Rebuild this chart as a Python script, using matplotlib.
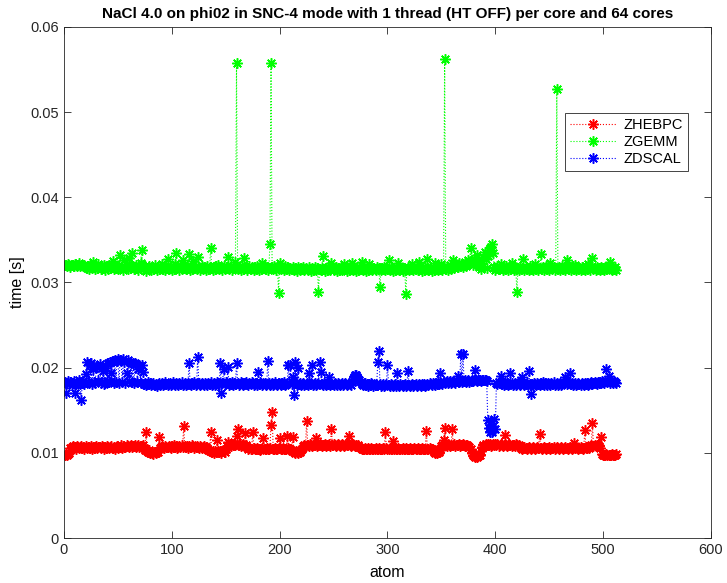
import numpy as np
import matplotlib
matplotlib.use("Agg")
import matplotlib.pyplot as plt

# times per atom, in ms
zhebpc_ms = [
    9.8, 9.9, 9.8, 9.9, 10.0, 10.6, 10.7, 10.8, 10.6, 10.7, 10.5, 10.8, 10.7, 10.6, 10.7, 10.8,
    10.6, 10.7, 10.5, 10.8, 10.6, 10.7, 10.7, 10.6, 10.8, 10.5, 10.7, 10.6, 10.7, 10.8, 10.6, 10.7,
    10.7, 10.6, 10.8, 10.7, 10.5, 10.7, 10.6, 10.8, 10.7, 10.6, 10.7, 10.8, 10.6, 10.7, 10.5, 10.7,
    10.8, 10.6, 10.7, 10.7, 10.9, 10.6, 10.8, 10.7, 10.7, 10.9, 10.8, 10.7, 10.8, 10.9, 10.7, 10.8,
    10.8, 10.9, 10.7, 10.8, 10.9, 10.7, 10.8, 10.8, 10.9, 10.6, 10.3, 12.4, 10.2, 10.1, 10.3, 10.0,
    10.1, 10.0, 9.9, 10.1, 10.0, 10.2, 10.1, 11.9, 10.6, 10.7, 10.8, 10.7, 10.6, 10.8, 10.7, 10.7,
    10.8, 10.7, 10.6, 10.8, 10.7, 10.9, 10.7, 10.8, 10.6, 10.7, 10.8, 10.7, 10.9, 10.7, 13.1, 10.8,
    10.7, 10.8, 10.6, 10.8, 10.7, 10.7, 10.9, 10.8, 10.6, 10.7, 10.8, 10.7, 10.6, 10.8, 10.7, 10.6,
    10.7, 10.8, 10.6, 10.7, 10.5, 10.3, 10.2, 12.4, 10.1, 10.2, 10.0, 10.2, 10.1, 11.5, 10.2, 10.1,
    10.2, 10.0, 10.2, 10.3, 10.1, 10.4, 10.8, 11.3, 10.9, 11.0, 10.8, 11.0, 10.9, 11.1, 10.9, 12.0,
    12.8, 10.9, 11.0, 10.8, 10.9, 11.0, 10.8, 12.3, 10.9, 10.7, 10.5, 10.6, 10.4, 10.5, 12.4, 10.6,
    10.4, 10.5, 10.6, 10.4, 10.5, 10.3, 10.5, 10.6, 11.7, 10.4, 10.5, 10.6, 10.4, 10.5, 10.6, 13.3,
    14.8, 10.5, 10.4, 10.6, 10.5, 10.4, 10.6, 11.7, 10.5, 10.4, 10.6, 10.5, 10.4, 10.5, 12.0, 10.6,
    10.5, 10.4, 10.2, 11.9, 10.1, 10.0, 10.2, 10.1, 10.0, 10.2, 10.1, 10.3, 10.4, 10.8, 10.9, 10.8,
    13.7, 10.9, 10.8, 11.0, 10.9, 10.8, 10.9, 11.0, 10.9, 11.7, 10.8, 10.9, 11.0, 10.9, 10.8, 10.9,
    10.9, 11.0, 10.8, 10.9, 10.9, 11.0, 10.8, 12.8, 10.9, 11.0, 10.9, 10.8, 10.9, 11.0, 10.9, 10.8,
    10.9, 11.0, 10.9, 10.8, 10.9, 10.9, 11.0, 12.0, 10.9, 10.8, 10.9, 11.0, 10.9, 10.8, 10.9, 10.8,
    10.9, 10.7, 10.6, 10.5, 10.4, 10.5, 10.6, 10.4, 10.5, 10.6, 10.5, 10.4, 10.6, 10.5, 10.4, 10.5,
    10.6, 10.5, 10.4, 10.6, 10.5, 10.4, 10.5, 10.6, 10.5, 12.4, 10.6, 10.4, 10.5, 10.6, 10.5, 10.4,
    11.4, 10.5, 10.6, 10.4, 10.5, 10.6, 10.5, 10.4, 10.5, 10.6, 10.4, 10.5, 10.6, 10.5, 10.4, 10.5,
    10.6, 10.5, 10.4, 10.5, 10.6, 10.5, 10.4, 10.6, 10.5, 10.4, 10.5, 10.6, 10.5, 10.4, 10.5, 12.6,
    10.5, 10.4, 10.6, 10.5, 10.4, 10.3, 10.1, 10.0, 10.1, 10.0, 10.2, 10.1, 10.3, 10.8, 10.9, 11.5,
    12.9, 10.9, 10.8, 11.0, 10.9, 10.8, 10.9, 12.8, 10.9, 11.0, 10.8, 10.9, 10.9, 11.0, 10.8, 10.9,
    10.9, 11.0, 10.9, 10.8, 10.9, 10.9, 10.8, 10.7, 10.4, 10.0, 9.7, 9.6, 9.5, 9.6, 9.5, 9.6,
    9.7, 9.8, 10.2, 10.7, 10.9, 10.8, 11.0, 10.9, 11.0, 10.9, 11.0, 10.8, 10.9, 11.0, 10.9, 11.0,
    10.9, 11.0, 10.8, 10.9, 11.0, 10.9, 10.8, 10.9, 12.1, 10.9, 10.8, 10.9, 11.0, 10.9, 10.8, 10.9,
    10.9, 10.8, 11.0, 10.9, 10.8, 10.9, 10.8, 10.6, 10.5, 10.6, 10.7, 10.6, 10.5, 10.6, 10.7, 10.6,
    10.5, 10.6, 10.7, 10.6, 10.5, 10.6, 10.7, 10.6, 12.2, 10.6, 10.5, 10.6, 10.7, 10.6, 10.5, 10.6,
    10.6, 10.7, 10.5, 10.6, 10.6, 10.7, 10.5, 10.6, 10.7, 10.6, 10.5, 10.6, 10.7, 10.6, 10.5, 10.6,
    10.7, 10.6, 10.5, 10.6, 10.7, 10.6, 10.5, 10.6, 11.2, 10.6, 10.7, 10.6, 10.5, 10.6, 10.7, 10.6,
    10.5, 10.6, 12.7, 10.7, 10.6, 10.7, 10.6, 10.8, 10.9, 13.5, 10.8, 10.9, 10.8, 10.9, 10.8, 10.8,
    10.6, 11.9, 9.9, 9.8, 9.7, 9.8, 9.9, 9.7, 9.8, 9.8, 9.7, 9.9, 9.8, 9.7, 9.8, 9.9,
]

zgemm_ms = [
    32.1, 32.0, 31.9, 32.2, 32.0, 31.8, 32.1, 32.0, 31.9, 32.2, 32.0, 31.9, 32.1, 32.3, 31.9, 32.0,
    32.1, 31.9, 32.0, 31.8, 31.7, 31.9, 31.6, 32.0, 31.8, 31.7, 32.4, 31.8, 31.6, 31.9, 31.7, 32.2,
    31.8, 31.6, 31.9, 31.7, 32.0, 31.5, 31.8, 31.9, 31.6, 32.1, 31.7, 31.8, 32.5, 31.6, 31.9, 31.7,
    31.8, 31.6, 32.0, 33.2, 31.7, 31.9, 31.5, 32.6, 31.8, 32.0, 31.6, 32.9, 31.7, 31.8, 33.5, 31.9,
    31.6, 31.8, 32.1, 31.7, 31.5, 31.9, 32.3, 33.8, 31.6, 31.8, 31.9, 31.4, 31.7, 31.6, 31.9, 31.7,
    31.5, 31.8, 31.6, 32.0, 31.7, 31.5, 31.8, 31.6, 31.9, 31.7, 32.2, 31.6, 31.8, 31.5, 31.7, 32.8,
    31.6, 31.8, 31.7, 31.5, 31.9, 31.6, 32.2, 33.4, 31.7, 31.8, 31.5, 31.9, 31.6, 32.6, 31.7, 31.8,
    31.6, 31.9, 31.7, 33.3, 31.5, 31.8, 31.6, 32.5, 31.7, 31.9, 31.6, 33.0, 31.8, 31.5, 31.7, 31.9,
    31.6, 31.8, 31.7, 31.5, 31.9, 31.6, 31.8, 34.0, 31.7, 31.5, 31.8, 31.6, 31.9, 31.7, 32.0, 31.6,
    31.8, 31.7, 31.5, 31.9, 31.6, 31.8, 31.7, 33.0, 31.6, 31.8, 31.9, 31.5, 31.7, 31.8, 32.4, 55.7,
    31.6, 31.8, 31.7, 31.5, 31.9, 31.6, 32.9, 31.7, 31.8, 31.5, 31.7, 31.9, 31.6, 31.8, 31.7, 31.5,
    31.8, 31.6, 31.9, 31.7, 31.5, 31.8, 31.6, 32.3, 31.7, 31.9, 31.6, 31.8, 31.5, 31.7, 34.5, 55.7,
    31.8, 31.6, 31.9, 31.7, 31.5, 31.8, 28.8, 32.3, 31.6, 31.8, 31.7, 31.5, 31.9, 31.6, 31.8, 31.7,
    31.5, 31.7, 31.6, 31.8, 31.5, 31.7, 31.6, 31.4, 31.8, 31.6, 31.5, 31.7, 31.6, 31.8, 31.5, 31.7,
    31.6, 31.5, 31.8, 31.6, 31.4, 31.7, 31.5, 31.6, 31.8, 31.5, 31.7, 28.9, 31.6, 31.5, 31.7, 33.1,
    31.6, 31.4, 31.7, 31.5, 31.8, 31.6, 31.5, 32.3, 31.7, 31.5, 31.6, 31.8, 31.4, 31.7, 31.5, 31.6,
    31.8, 31.5, 31.7, 32.2, 31.6, 31.4, 31.7, 31.5, 31.8, 31.6, 32.3, 31.5, 31.7, 31.6, 31.4, 31.8,
    31.5, 31.7, 31.6, 32.4, 31.5, 31.8, 31.6, 31.4, 31.7, 31.5, 32.2, 31.6, 31.8, 31.5, 31.7, 31.6,
    31.5, 31.8, 31.6, 31.7, 29.5, 31.5, 31.7, 31.6, 31.8, 31.5, 31.7, 31.6, 32.6, 31.5, 31.7, 31.6,
    31.4, 31.7, 31.5, 31.8, 31.6, 32.3, 31.5, 31.7, 31.6, 31.4, 31.7, 31.5, 28.7, 31.6, 31.8, 31.5,
    31.7, 31.6, 32.2, 31.5, 31.7, 31.6, 31.8, 31.5, 32.4, 31.7, 31.6, 31.4, 31.7, 31.5, 31.8, 31.6,
    32.8, 31.5, 31.7, 31.6, 31.4, 31.7, 31.5, 32.3, 31.6, 31.8, 31.5, 31.7, 31.6, 32.2, 31.5, 31.7,
    56.2, 31.6, 31.8, 31.5, 31.7, 32.0, 31.6, 31.8, 32.6, 31.7, 31.9, 32.1, 31.8, 32.3, 31.9, 32.0,
    32.2, 31.8, 32.1, 32.4, 31.9, 32.2, 32.6, 32.3, 34.0, 32.5, 32.1, 32.8, 32.4, 32.2, 33.2, 32.0,
    31.8, 32.1, 31.6, 32.5, 33.0, 33.6, 32.8, 31.7, 33.1, 33.8, 34.1, 34.2, 34.5, 33.4, 31.8, 31.5,
    31.7, 31.9, 31.6, 31.8, 32.2, 31.7, 31.5, 31.8, 31.6, 31.9, 31.7, 31.5, 31.8, 31.6, 32.3, 31.7,
    31.5, 31.8, 31.6, 28.9, 31.7, 31.5, 31.8, 31.6, 31.7, 32.8, 31.5, 31.8, 31.6, 31.7, 31.5, 31.9,
    31.6, 31.8, 31.5, 31.7, 32.2, 31.6, 31.8, 31.5, 31.7, 33.3, 31.6, 31.8, 31.5, 31.7, 31.9, 31.6,
    31.8, 31.5, 32.3, 31.7, 31.6, 31.8, 31.5, 31.7, 52.7, 31.6, 31.8, 31.5, 31.7, 31.9, 31.6, 31.8,
    31.5, 32.6, 31.7, 31.6, 31.8, 31.5, 31.7, 31.9, 31.6, 32.1, 31.5, 31.8, 31.6, 31.7, 31.5, 31.8,
    31.6, 31.7, 31.5, 31.9, 31.6, 32.2, 31.7, 31.5, 31.8, 32.9, 31.6, 31.7, 31.5, 31.8, 31.6, 31.7,
    31.5, 31.8, 31.6, 31.7, 31.5, 31.8, 31.6, 31.7, 31.9, 32.4, 31.6, 31.5, 31.7, 31.6, 31.8, 31.5,
]

zdscal_ms = [
    18.3, 17.0, 18.2, 18.4, 18.1, 18.3, 18.0, 18.2, 18.4, 17.0, 18.1, 18.3, 18.2, 18.5, 18.1, 16.2,
    18.2, 18.4, 18.1, 19.2, 20.7, 18.3, 18.2, 20.3, 20.5, 18.1, 19.8, 18.3, 18.2, 20.2, 20.1, 18.4,
    20.4, 18.2, 18.3, 19.6, 18.1, 18.2, 20.0, 18.4, 20.6, 18.3, 20.7, 19.4, 20.8, 18.2, 20.9, 18.3,
    20.8, 21.0, 18.2, 20.9, 20.8, 18.3, 21.0, 20.7, 18.2, 19.4, 20.9, 18.4, 20.7, 20.6, 18.3, 20.5,
    18.2, 20.6, 20.4, 18.3, 19.9, 20.3, 18.2, 20.3, 19.5, 18.1, 18.2, 18.0, 18.1, 18.3, 18.1, 18.2,
    18.0, 18.1, 18.2, 18.0, 18.1, 17.9, 18.1, 18.2, 18.0, 18.1, 18.2, 18.0, 18.1, 18.3, 18.1, 18.0,
    18.1, 18.2, 18.0, 18.1, 18.3, 18.1, 18.0, 18.2, 18.1, 18.0, 18.2, 18.1, 18.3, 18.0, 18.1, 18.2,
    18.0, 18.1, 18.2, 20.5, 18.1, 18.0, 18.2, 18.1, 18.3, 18.0, 18.1, 21.3, 18.2, 18.0, 18.1, 18.2,
    18.1, 18.0, 18.2, 18.1, 18.0, 18.2, 18.1, 18.3, 18.0, 18.1, 18.2, 18.0, 18.1, 18.3, 18.2, 18.1,
    20.5, 17.0, 18.2, 19.9, 18.1, 18.3, 18.2, 20.1, 18.0, 18.2, 18.1, 18.3, 18.0, 18.2, 18.1, 20.6,
    18.2, 18.0, 18.1, 18.3, 18.2, 18.0, 18.1, 18.2, 18.3, 18.1, 18.0, 18.2, 18.1, 18.3, 18.2, 18.0,
    18.1, 18.2, 18.0, 19.5, 18.1, 18.3, 18.2, 18.0, 18.1, 18.2, 18.0, 18.1, 20.8, 18.2, 18.0, 18.1,
    18.2, 18.0, 18.1, 18.3, 18.1, 18.0, 18.2, 18.1, 18.0, 18.2, 18.1, 18.3, 18.0, 18.1, 18.2, 20.3,
    18.2, 20.3, 18.1, 18.9, 16.8, 20.7, 18.2, 18.0, 20.0, 18.1, 18.2, 18.0, 18.1, 18.2, 18.0, 18.1,
    18.2, 18.0, 19.4, 18.1, 18.2, 20.3, 18.0, 18.1, 18.2, 18.0, 18.1, 18.2, 20.7, 19.5, 18.1, 18.0,
    18.2, 18.1, 18.0, 18.2, 18.1, 18.9, 18.0, 18.2, 18.1, 18.0, 18.2, 18.1, 18.0, 18.2, 18.1, 18.0,
    18.1, 18.2, 18.0, 18.1, 18.2, 18.0, 18.1, 18.2, 18.1, 18.0, 18.3, 18.7, 18.9, 19.1, 19.1, 18.9,
    18.7, 18.5, 18.3, 18.1, 18.0, 18.1, 18.2, 18.0, 18.1, 17.9, 18.1, 18.0, 18.2, 18.1, 17.9, 18.0,
    18.1, 18.0, 20.7, 22.0, 18.1, 17.9, 18.0, 18.1, 17.9, 18.0, 18.1, 20.3, 18.0, 17.9, 18.1, 18.0,
    17.9, 18.0, 18.1, 17.9, 19.4, 18.0, 17.9, 18.1, 18.0, 17.9, 18.0, 18.1, 17.9, 18.0, 19.6, 18.0,
    17.9, 18.0, 18.1, 17.9, 18.0, 18.1, 17.9, 18.0, 18.1, 18.0, 17.9, 18.1, 18.0, 18.1, 17.9, 18.0,
    18.1, 18.0, 18.2, 18.1, 18.0, 18.2, 18.1, 18.0, 18.2, 18.1, 18.3, 18.1, 19.4, 18.2, 18.1, 18.3,
    18.2, 18.3, 18.4, 18.2, 18.3, 18.4, 18.2, 18.3, 18.4, 18.3, 18.2, 18.4, 19.0, 18.3, 18.4, 21.6,
    18.3, 21.6, 18.4, 18.5, 18.3, 18.4, 18.5, 18.3, 18.4, 18.6, 18.4, 18.5, 19.7, 18.6, 18.4, 18.5,
    18.6, 18.5, 18.4, 18.6, 18.5, 18.6, 18.5, 18.4, 13.9, 12.9, 12.5, 13.0, 12.4, 13.2, 14.0, 12.8,
    18.2, 18.1, 18.3, 18.2, 19.0, 18.1, 18.2, 18.0, 18.3, 18.1, 18.2, 18.0, 18.1, 19.4, 18.2, 18.0,
    18.1, 18.2, 18.0, 18.1, 18.3, 18.2, 18.0, 18.1, 18.9, 18.2, 18.0, 18.1, 18.2, 18.0, 19.6, 18.1,
    16.9, 18.1, 18.0, 18.2, 18.1, 18.0, 18.2, 18.1, 18.0, 18.2, 18.1, 18.3, 18.0, 18.2, 18.1, 18.0,
    18.2, 18.1, 18.0, 18.2, 18.1, 18.3, 18.0, 18.1, 18.2, 18.0, 18.1, 18.2, 18.0, 18.1, 18.3, 18.2,
    18.9, 18.1, 18.2, 18.3, 19.4, 18.1, 18.2, 18.0, 18.1, 18.2, 18.0, 18.1, 18.2, 18.1, 18.0, 18.2,
    18.1, 18.0, 18.2, 18.1, 18.2, 18.0, 18.1, 18.2, 18.3, 18.1, 18.2, 18.3, 18.2, 18.1, 18.3, 18.2,
    18.3, 18.2, 18.4, 18.3, 18.2, 18.4, 19.8, 18.3, 19.0, 18.2, 18.4, 18.3, 18.2, 18.4, 18.3, 18.2,
]

labels = ['ZHEBPC', 'ZGEMM', 'ZDSCAL']
colors = ['#ff0000', '#00ff00', '#0000ff']
series = [zhebpc_ms, zgemm_ms, zdscal_ms]

plt.rcParams['font.family'] = ['Liberation Sans', 'DejaVu Sans']

fig = plt.figure(figsize=(7.27, 5.83), dpi=100)
ax = fig.add_axes([0.088, 0.077, 0.89, 0.877])

for vals, lab, col in zip(series, labels, colors):
    t = np.array(vals) * 1e-3  # ms -> s
    atoms = np.arange(1, len(t) + 1)
    ax.plot(atoms, t, linestyle=':', linewidth=0.8, color=col,
            marker=(8, 2, 0), markersize=7.5, markeredgewidth=1.1,
            markeredgecolor=col, label=lab)

ax.set_xlim(0, 600)
ax.set_ylim(0, 0.06)
ax.set_xticks(range(0, 601, 100))
ax.set_yticks([0, 0.01, 0.02, 0.03, 0.04, 0.05, 0.06])
ax.set_yticklabels(['0', '0.01', '0.02', '0.03', '0.04', '0.05', '0.06'])
ax.tick_params(direction='in', top=True, right=True, labelsize=10.5,
               length=5, width=0.6, colors='#262626')
for s in ax.spines.values():
    s.set_linewidth(0.6)
    s.set_color('#262626')

ax.set_xlabel('atom', fontsize=11.5, labelpad=6)
ax.set_ylabel('time [s]', fontsize=11.5, labelpad=4)
ax.set_title('NaCl 4.0 on phi02 in SNC-4 mode with 1 thread (HT OFF) per core and 64 cores',
             fontsize=11, fontweight='bold', pad=6)

leg = ax.legend(loc='upper right', bbox_to_anchor=(0.976, 0.845), fontsize=10.5,
                fancybox=False, edgecolor='#262626', framealpha=1,
                handlelength=3.2, borderpad=0.35, labelspacing=0.2,
                handletextpad=0.5)
leg.get_frame().set_linewidth(0.6)

fig.savefig('out.png', dpi=100)
